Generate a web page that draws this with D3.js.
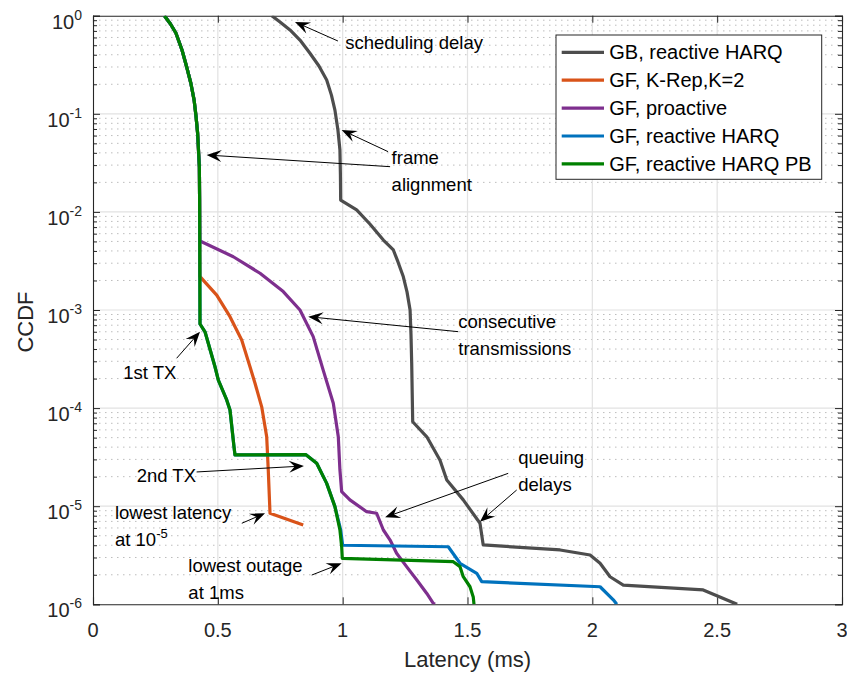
<!DOCTYPE html>
<html><head><meta charset="utf-8">
<script src="https://cdn.jsdelivr.net/npm/d3@7"></script>
<style>
html,body{margin:0;padding:0;background:#fff;}
svg{display:block;font-family:"Liberation Sans",Arial,Helvetica,sans-serif;}
</style></head>
<body>
<svg id="chart" width="847" height="682"></svg>
<script>
// ---------- data (latency in ms, CCDF) ----------
const xTicks = [0, 0.5, 1, 1.5, 2, 2.5, 3];
const yDecades = [-6, -5, -4, -3, -2, -1, 0];

const gfPbTop = [[0.286,1],[0.3104,0.823],[0.332,0.667],[0.3565,0.447],[0.375,0.302],[0.3917,0.206],[0.405,0.138],
  [0.4125,0.095],[0.419,0.0637],[0.426,0.0287],[0.427,0.0132]];

const gbReactive = [[0.716,1],[0.749,0.863],[0.789,0.715],[0.829,0.565],[0.869,0.414],[0.905,0.307],[0.936,0.221],
  [0.955,0.155],[0.969,0.109],[0.981,0.0684],[0.989,0.0428],[0.991,0.0238],[0.992,0.0132],
  [1.056,0.0105],[1.109,7.53e-3],[1.163,5.17e-3],[1.203,4.09e-3],[1.2216,3.09e-3],[1.243,2.18e-3],[1.2577,1.53e-3],
  [1.270,1.0e-3],[1.2737,5.56e-4],[1.2765,2.86e-4],[1.2805,7.26e-5],
  [1.337,5.1e-5],[1.390,2.94e-5],[1.417,1.85e-5],[1.483,1.16e-5],[1.550,6.7e-6],[1.563,4.03e-6],[1.871,3.58e-6],
  [1.991,3.18e-6],[2.031,2.62e-6],[2.071,1.91e-6],[2.124,1.57e-6],[2.444,1.40e-6],[2.58,1.0e-6]];

const gfKRep = gfPbTop.concat([[0.428,2.2e-3],[0.435,2.1e-3],[0.4955,1.42e-3],[0.5487,8.55e-4],[0.5956,4.94e-4],[0.6288,2.64e-4],
  [0.6489,1.79e-4],[0.6757,1.03e-4],[0.6957,5.1e-5],[0.702,2.34e-5],[0.709,8.47e-6],[0.842,6.43e-6]]);

const gfProactive = gfPbTop.concat([[0.428,5.0e-3],[0.435,4.97e-3],[0.562,3.49e-3],[0.669,2.37e-3],[0.762,1.54e-3],[0.829,1.0e-3],
  [0.882,5.35e-4],[0.922,2.44e-4],[0.9625,1.12e-4],[0.9825,5.1e-5],[0.989,2.34e-5],[0.996,1.41e-5],[1.029,1.16e-5],
  [1.096,8.79e-6],[1.136,8.47e-6],[1.163,5.72e-6],[1.190,4.52e-6],[1.216,3.31e-6],[1.256,2.42e-6],[1.297,1.77e-6],
  [1.337,1.29e-6],[1.363,1.02e-6],[1.370,1.0e-6]]);

const gfCommonMid = [[0.4286,7.2e-4],[0.4486,6.0e-4],[0.4886,2.64e-4],[0.502,1.93e-4],[0.5355,1.21e-4],[0.5487,9.57e-5],
  [0.5647,4.05e-5],[0.5687,3.33e-5],[0.853,3.35e-5],[0.896,2.74e-5],[0.936,1.71e-5],[0.969,9.9e-6]];

const gfReactive = gfPbTop.concat(gfCommonMid, [[0.992,5.72e-6],[1.0,4.0e-6],[1.423,3.86e-6],[1.470,2.62e-6],[1.537,2.07e-6],
  [1.557,1.70e-6],[2.031,1.51e-6],[2.084,1.11e-6],[2.098,1.0e-6]]);

const gfReactivePB = gfPbTop.concat(gfCommonMid, [[0.989,5.72e-6],[0.996,3.86e-6],[0.9985,2.94e-6],[1.443,2.72e-6],
  [1.470,2.42e-6],[1.483,1.91e-6],[1.510,1.51e-6],[1.523,1.19e-6],[1.526,1.0e-6]]);

const seriesNames = ["GB, reactive HARQ","GF, K-Rep,K=2","GF, proactive","GF, reactive HARQ","GF, reactive HARQ PB"];
const seriesData = [gbReactive, gfKRep, gfProactive, gfReactive, gfReactivePB];
const seriesColors = ["#4d4d4d","#D95319","#7E2F8E","#0072BD","#008000"];
const drawOrder = [0,1,2,3,4];

// annotations: text lines anchored at (x, first-line CCDF); arrows tail->tip in data coords
const annoTexts = [
  {x:1.01,  lp:-0.268, lines:["scheduling delay"]},
  {x:1.196, lp:-1.438, lines:["frame","alignment"]},
  {x:1.463, lp:-3.117, lines:["consecutive","transmissions"]},
  {x:0.121, lp:-3.629, lines:["1st TX"]},
  {x:0.175, lp:-4.682, lines:["2nd TX"]},
  {x:0.088, lp:-5.056, lines:["lowest latency","at 10^-5"]},
  {x:0.382, lp:-5.599, lines:["lowest outage","at 1ms"]},
  {x:1.703, lp:-4.495, lines:["queuing","delays"]}
];
const annoArrows = [
  [0.981,-0.258, 0.809,-0.064],
  [1.182,-1.386, 0.996,-1.165],
  [1.190,-1.539, 0.455,-1.420],
  [1.463,-3.221, 0.862,-3.068],
  [0.335,-3.492, 0.4286,-3.221],
  [0.415,-4.651, 0.845,-4.590],
  [0.596,-5.174, 0.689,-5.072],
  [0.876,-5.702, 0.996,-5.582],
  [1.663,-4.665, 1.170,-5.113],
  [1.697,-4.835, 1.550,-5.158]
];

// ---------- layout ----------
const L = 93, R = 842, T = 15.7, B = 604.3;
const x = d3.scaleLinear().domain([0,3]).range([L,R]);
const y = d3.scaleLog().domain([1e-6,1]).range([B,T]);
const axisColor = "#262626";

const svg = d3.select("#chart");
svg.append("defs").append("clipPath").attr("id","clip")
  .append("rect").attr("x",L).attr("y",T).attr("width",R-L).attr("height",B-T);

// minor horizontal grid
const minorVals = [];
yDecades.slice(0,-1).forEach(d => { for (let m=2;m<=9;m++) minorVals.push(m*Math.pow(10,d)); });
const g = svg.append("g");
g.selectAll("line.minor").data(minorVals).enter().append("line")
  .attr("x1",L).attr("x2",R).attr("y1",d=>y(d)).attr("y2",d=>y(d))
  .attr("stroke","#bdbdbd").attr("stroke-width",1).attr("stroke-dasharray","1.5,4.5");
// major grid
g.selectAll("line.hmaj").data(yDecades.slice(1,-1)).enter().append("line")
  .attr("x1",L).attr("x2",R).attr("y1",d=>y(Math.pow(10,d))).attr("y2",d=>y(Math.pow(10,d)))
  .attr("stroke","#e2e2e2").attr("stroke-width",1.2);
g.selectAll("line.vmaj").data(xTicks.slice(1,-1)).enter().append("line")
  .attr("x1",d=>x(d)).attr("x2",d=>x(d)).attr("y1",T).attr("y2",B)
  .attr("stroke","#e2e2e2").attr("stroke-width",1.2);

// axes (ticks via d3 axes)
const xAxisB = d3.axisBottom(x).tickValues(xTicks).tickSize(-7).tickFormat("");
const xAxisT = d3.axisTop(x).tickValues(xTicks).tickSize(-7).tickFormat("");
const yMajorVals = yDecades.map(d=>Math.pow(10,d));
const yAxisL = d3.axisLeft(y).tickValues(yMajorVals).tickSize(-7).tickFormat("");
const yAxisR = d3.axisRight(y).tickValues(yMajorVals).tickSize(-7).tickFormat("");
const yAxisLm = d3.axisLeft(y).tickValues(minorVals).tickSize(-4).tickFormat("");
const yAxisRm = d3.axisRight(y).tickValues(minorVals).tickSize(-4).tickFormat("");
function styleAxis(sel){ sel.selectAll("path").attr("stroke",axisColor).attr("stroke-width",1.1);
  sel.selectAll("line").attr("stroke",axisColor).attr("stroke-width",1); }
svg.append("g").attr("transform",`translate(0,${B})`).call(xAxisB).call(styleAxis);
svg.append("g").attr("transform",`translate(0,${T})`).call(xAxisT).call(styleAxis);
svg.append("g").attr("transform",`translate(${L},0)`).call(yAxisL).call(styleAxis);
svg.append("g").attr("transform",`translate(${R},0)`).call(yAxisR).call(styleAxis);
svg.append("g").attr("transform",`translate(${L},0)`).call(yAxisLm).call(s=>{styleAxis(s);s.select("path").remove();});
svg.append("g").attr("transform",`translate(${R},0)`).call(yAxisRm).call(s=>{styleAxis(s);s.select("path").remove();});

// tick labels
svg.append("g").selectAll("text").data(xTicks).enter().append("text")
  .attr("x",d=>x(d)).attr("y",637).attr("text-anchor","middle")
  .attr("font-size",20).attr("fill",axisColor).text(d=>d3.format("~g")(d));
const yl = svg.append("g").selectAll("text").data(yDecades).enter().append("text")
  .attr("x",82).attr("y",d=>y(Math.pow(10,d))+13).attr("text-anchor","end")
  .attr("font-size",20).attr("fill",axisColor);
yl.append("tspan").text("10");
yl.append("tspan").attr("dy",-9).attr("font-size",14).text(d=>String(d));

// axis labels
svg.append("text").attr("x",(L+R)/2).attr("y",667).attr("text-anchor","middle")
  .attr("font-size",22).attr("fill",axisColor).text("Latency (ms)");
svg.append("text").attr("transform",`translate(33,${(T+B)/2+12}) rotate(-90)`).attr("text-anchor","middle")
  .attr("font-size",22).attr("fill",axisColor).text("CCDF");

// curves
const line = d3.line().x(d=>x(d[0])).y(d=>y(d[1]));
const curves = svg.append("g").attr("clip-path","url(#clip)");
drawOrder.forEach(i=>{
  curves.append("path").datum(seriesData[i]).attr("d",line)
    .attr("fill","none").attr("stroke",seriesColors[i]).attr("stroke-width",3.2)
    .attr("stroke-linejoin","round");
});

// annotations
const ag = svg.append("g");
annoTexts.forEach(a=>{
  a.lines.forEach((ln,k)=>{
    const t = ag.append("text").attr("x",x(a.x)).attr("y",y(Math.pow(10,a.lp))+7+k*27)
      .attr("font-size",18.5).attr("fill","#000");
    const m = ln.match(/^(.*)\^(\S+)$/);
    if (m){ t.append("tspan").text(m[1]); t.append("tspan").attr("dy",-8).attr("font-size",13).text(m[2]); }
    else t.text(ln);
  });
});
annoArrows.forEach(a=>{
  const x1=x(a[0]), y1=y(Math.pow(10,a[1])), x2=x(a[2]), y2=y(Math.pow(10,a[3]));
  const ang = Math.atan2(y2-y1,x2-x1)*180/Math.PI;
  const HL=15, HW=12;
  const len = Math.hypot(x2-x1,y2-y1);
  ag.append("line").attr("x1",x1).attr("y1",y1)
    .attr("x2",x1+(x2-x1)*(len-HL*0.6)/len).attr("y2",y1+(y2-y1)*(len-HL*0.6)/len)
    .attr("stroke","#000").attr("stroke-width",1);
  ag.append("path").attr("transform",`translate(${x2},${y2}) rotate(${ang})`)
    .attr("d",`M0,0 L${-HL},${-HW/2} L${-HL*0.62},0 L${-HL},${HW/2} Z`).attr("fill","#000");
});

// legend
const lg = svg.append("g");
lg.append("rect").attr("x",556).attr("y",35).attr("width",265.7).attr("height",144.3)
  .attr("fill","#fff").attr("stroke",axisColor).attr("stroke-width",1);
seriesNames.forEach((n,i)=>{
  const cy = 52.3 + i*27.9;
  lg.append("line").attr("x1",561.7).attr("x2",604).attr("y1",cy).attr("y2",cy)
    .attr("stroke",seriesColors[i]).attr("stroke-width",3.2);
  lg.append("text").attr("x",609.3).attr("y",cy+7).attr("font-size",20).attr("fill","#000").text(n);
});
</script>
</body></html>
